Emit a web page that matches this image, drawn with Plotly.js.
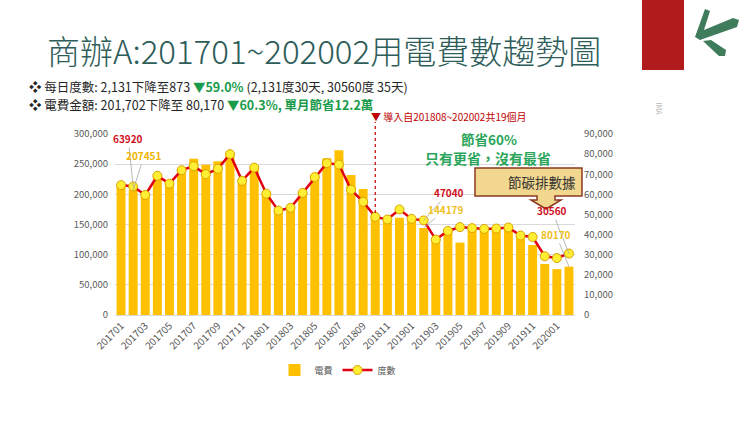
<!DOCTYPE html>
<html>
<head>
<meta charset="utf-8">
<script src="https://cdn.plot.ly/plotly-3.0.1.min.js"></script>
<style>html,body{margin:0;padding:0;background:#fff;}#chart{width:750px;height:421px;}</style>
</head>
<body>
<div id="chart"></div>
<script>
// ---- data ----
var months = ["201701","201702","201703","201704","201705","201706","201707","201708","201709","201710","201711","201712",
              "201801","201802","201803","201804","201805","201806","201807","201808","201809","201810","201811","201812",
              "201901","201902","201903","201904","201905","201906","201907","201908","201909","201910","201911","201912",
              "202001","202002"];
var fee = [214000,207451,199000,229000,217000,242000,259000,249000,255000,268000,222000,245000,
           200000,172000,178000,204000,232000,260000,273000,232000,209000,162000,158000,161000,
           157000,144179,124000,138000,120000,141000,141000,141000,143000,131000,116000,84500,
           76000,80170];
var kwh = [64600,63920,59700,69200,65300,72000,74000,70000,72700,80000,66700,73300,
           60300,51900,53300,60700,68600,75500,74800,62300,56300,48800,47500,52500,
           47800,47040,37500,41800,43700,43200,42800,43000,43500,39500,38800,29200,
           28300,30560];
var feeName = "電費", kwhName = "度數";
var tickMonths = months.filter(function(m, i){ return i % 2 === 0; });

// ---- helpers (pixel -> paper) ----
var L = 115, R = 575, T = 134, B = 315;
function px(x){ return (x - L) / (R - L); }
function py(y){ return (B - y) / (B - T); }
function path(pts){
  return pts.map(function(p, i){ return (i ? "L" : "M") + px(p[0]).toFixed(4) + "," + py(p[1]).toFixed(4); }).join(" ") + " Z";
}

var FONT = "Noto Sans CJK TC, Noto Sans, sans-serif";
var GRAY = "#595959";

var traces = [
  { type: "bar", x: months, y: fee, name: feeName, marker: { color: "#ffc000" }, yaxis: "y" },
  { type: "scatter", mode: "lines+markers", x: months, y: kwh, name: kwhName, yaxis: "y2",
    line: { color: "#e00010", width: 2.5 },
    marker: { size: 9, color: "#ffee33", line: { color: "#d9a400", width: 1 } } }
];

var iLast = months.length - 1, iMid = months.indexOf("201902"), i2 = 1, iIntro = months.indexOf("201810");

var annotations = [
  // title
  { xref: "paper", yref: "paper", x: px(45), y: py(50), xanchor: "left", yanchor: "middle", showarrow: false,
    text: "商辦A:201701~202002用電費數趨勢圖", font: { family: FONT, size: 33, color: "#2e5d5a", weight: 300 } },
  // bullet lines
  { xref: "paper", yref: "paper", x: px(28), y: py(86), xanchor: "left", yanchor: "middle", showarrow: false, borderpad: 0,
    text: "❖ 每日度數: 2,131下降至873 <span style='color:#1a9b4b'><b>▼59.0%</b></span> (2,131度30天, 30560度 35天)",
    font: { family: FONT, size: 12.5, color: "#262626" } },
  { xref: "paper", yref: "paper", x: px(28), y: py(104), xanchor: "left", yanchor: "middle", showarrow: false, borderpad: 0,
    text: "❖ 電費金額: 201,702下降至 80,170 <span style='color:#1a9b4b'><b>▼60.3%, 單月節省12.2萬</b></span>",
    font: { family: FONT, size: 12.5, color: "#262626" } },
  // intro marker
  { xref: "x", yref: "paper", x: iIntro, y: py(117), xanchor: "left", yanchor: "middle", xshift: -6, showarrow: false,
    text: "▼ 導入自201808~202002共19個月", font: { family: FONT, size: 10, color: "#c00000" } },
  // green slogans
  { xref: "paper", yref: "paper", x: px(489), y: py(139), xanchor: "center", yanchor: "middle", showarrow: false,
    text: "<b>節省60%</b>", font: { family: FONT, size: 13.5, color: "#2aa55a" } },
  { xref: "paper", yref: "paper", x: px(488), y: py(158), xanchor: "center", yanchor: "middle", showarrow: false,
    text: "<b>只有更省，沒有最省</b>", font: { family: FONT, size: 14, color: "#2aa55a" } },
  // callout text
  { xref: "paper", yref: "paper", x: px(542), y: py(182), xanchor: "center", yanchor: "middle", showarrow: false,
    text: "節碳排數據", font: { family: FONT, size: 13.5, color: "#333333" } },
  // data labels with leader lines
  { xref: "x", yref: "y2", x: i2, y: kwh[i2], text: "<b>" + kwh[i2] + "</b>", showarrow: true, arrowhead: 0,
    arrowwidth: 0.8, arrowcolor: "#a6a6a6", ax: -5, ay: -48, font: { family: FONT, size: 10, color: "#d0101c" } },
  { xref: "x", yref: "y", x: i2, y: fee[i2], text: "<b>" + fee[i2] + "</b>", showarrow: true, arrowhead: 0,
    arrowwidth: 0.8, arrowcolor: "#a6a6a6", ax: 11, ay: -34, font: { family: FONT, size: 10, color: "#f0b400" } },
  { xref: "x", yref: "y2", x: iMid, y: kwh[iMid], text: "<b>" + kwh[iMid] + "</b>", showarrow: true, arrowhead: 0,
    arrowwidth: 0.8, arrowcolor: "#a6a6a6", ax: 25, ay: -28, font: { family: FONT, size: 10, color: "#d0101c" } },
  { xref: "x", yref: "y", x: iMid, y: fee[iMid], text: "<b>" + fee[iMid] + "</b>", showarrow: true, arrowhead: 0,
    arrowwidth: 0.8, arrowcolor: "#a6a6a6", ax: 22, ay: -19, font: { family: FONT, size: 10, color: "#f0c020" } },
  { xref: "x", yref: "y2", x: iLast, y: kwh[iLast], text: "<b>" + kwh[iLast] + "</b>", showarrow: true, arrowhead: 0,
    arrowwidth: 0.8, arrowcolor: "#a6a6a6", ax: -17, ay: -43, font: { family: FONT, size: 10, color: "#d0101c" } },
  { xref: "x", yref: "y", x: iLast, y: fee[iLast], text: "<b>" + fee[iLast] + "</b>", showarrow: true, arrowhead: 0,
    arrowwidth: 0.8, arrowcolor: "#a6a6a6", ax: -13, ay: -32, font: { family: FONT, size: 10, color: "#f0c020" } },
  // IMA
  { xref: "paper", yref: "paper", x: px(666), y: py(100), showarrow: false, textangle: 90,
    text: "IMA", font: { family: FONT, size: 7, color: "#b0b0b0" } }
];

var shapes = [
  // intro dashed line
  { type: "line", xref: "x", yref: "paper", x0: iIntro, x1: iIntro, y0: py(213), y1: py(122),
    line: { color: "#c00000", width: 1.2, dash: "dot" } },
  // callout box
  { type: "path", xref: "paper", yref: "paper",
    path: path([[475,168],[582,168],[582,196],[555,196],[555,200],[561,200],[546,209],[531,200],[537,200],[537,196],[475,196]]),
    fillcolor: "#f2d88f", line: { color: "#8b3a22", width: 1.5 } },
  // red block
  { type: "rect", xref: "paper", yref: "paper", x0: px(642), x1: px(684), y0: py(70), y1: py(0),
    fillcolor: "#b21b1b", line: { width: 0 } },
  // green logo
  { type: "path", xref: "paper", yref: "paper",
    path: path([[705,9],[710,11],[704,30],[733,18],[739,20],[737,27],[700,40],[695,37]]),
    fillcolor: "#3f7c5c", line: { width: 0 } },
  { type: "path", xref: "paper", yref: "paper",
    path: path([[703,41],[711,40],[726,50],[725,56],[719,56]]),
    fillcolor: "#3f7c5c", line: { width: 0 } }
];

var layout = {
  width: 750, height: 421,
  margin: { l: L, r: 750 - R, t: T, b: 421 - B, pad: 0 },
  paper_bgcolor: "#ffffff", plot_bgcolor: "#ffffff",
  font: { family: FONT, size: 9.5, color: GRAY },
  bargap: 0.26,
  showlegend: true,
  legend: { orientation: "h", x: px(338), xanchor: "center", y: py(370), yanchor: "middle",
            font: { family: FONT, size: 9, color: GRAY }, itemwidth: 30, tracegroupgap: 0 },
  xaxis: { type: "category", range: [-0.5, months.length - 0.5], autorange: false,
           tickmode: "array", tickvals: tickMonths, ticktext: tickMonths, tickangle: -45,
           tickfont: { size: 10, color: GRAY }, showline: true, linecolor: "#d9d9d9", linewidth: 1,
           ticks: "", showgrid: false, fixedrange: true },
  yaxis: { range: [0, 300000], dtick: 50000, tickformat: ",d", showgrid: true, gridcolor: "#d9d9d9", gridwidth: 1,
           zeroline: false, ticks: "", tickfont: { size: 9.5, color: GRAY }, ticklabelstandoff: 6 },
  yaxis2: { range: [0, 90000], dtick: 10000, tickformat: ",d", overlaying: "y", side: "right", showgrid: false,
            zeroline: false, ticks: "", tickfont: { size: 9.5, color: GRAY }, ticklabelstandoff: 8 },
  annotations: annotations,
  shapes: shapes
};

Plotly.newPlot("chart", traces, layout, { displayModeBar: false, staticPlot: true });
</script>
</body>
</html>
